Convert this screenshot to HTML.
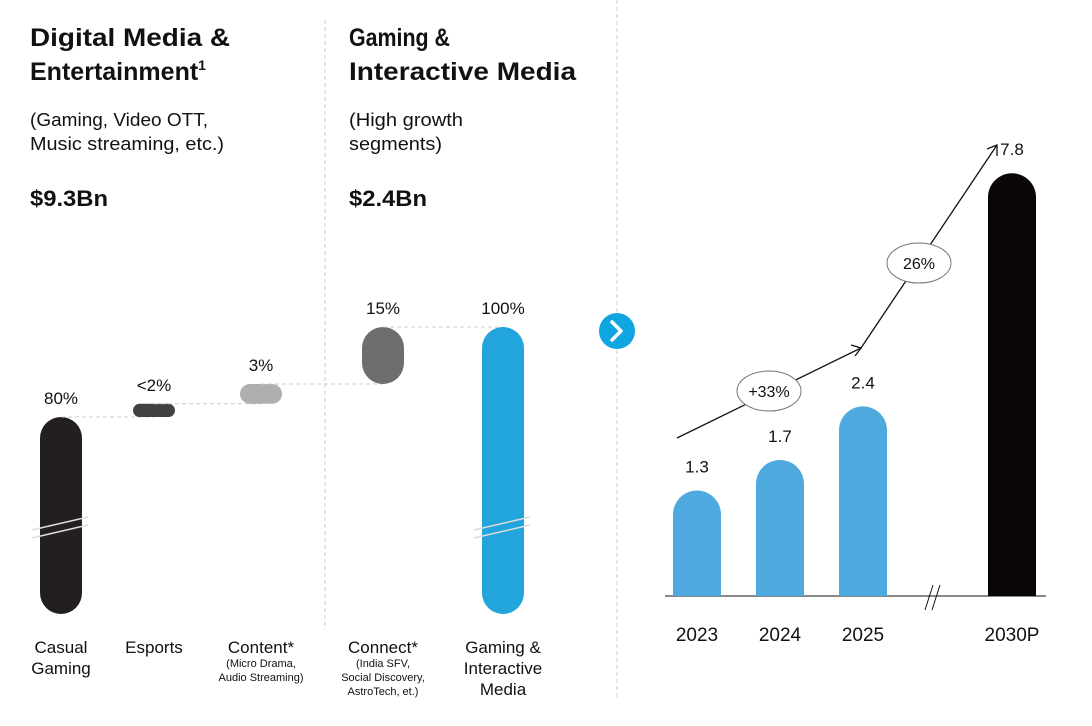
<!DOCTYPE html>
<html><head><meta charset="utf-8"><style>
html,body{margin:0;padding:0;background:#fff;}
svg{display:block;font-family:"Liberation Sans Narrow","Liberation Sans",sans-serif;}
</style></head><body>
<svg id="chart" width="1092" height="726" viewBox="0 0 1092 726" xmlns="http://www.w3.org/2000/svg">
<g fill="#111">
<text x="30" y="46" font-size="25" font-weight="bold" textLength="200" lengthAdjust="spacingAndGlyphs">Digital Media &amp;</text>
<text x="30" y="80" font-size="25" font-weight="bold" textLength="176" lengthAdjust="spacingAndGlyphs">Entertainment<tspan font-size="14" dy="-10">1</tspan></text>
<text x="30" y="126" font-size="18" textLength="178" lengthAdjust="spacingAndGlyphs">(Gaming, Video OTT,</text>
<text x="30" y="150" font-size="18" textLength="194" lengthAdjust="spacingAndGlyphs">Music streaming, etc.)</text>
<text x="30" y="206" font-size="22" font-weight="bold" textLength="78" lengthAdjust="spacingAndGlyphs">$9.3Bn</text>
<text x="349" y="46" font-size="25" font-weight="bold" textLength="101" lengthAdjust="spacingAndGlyphs">Gaming &amp;</text>
<text x="349" y="80" font-size="25" font-weight="bold" textLength="227" lengthAdjust="spacingAndGlyphs">Interactive Media</text>
<text x="349" y="126" font-size="18" textLength="114" lengthAdjust="spacingAndGlyphs">(High growth</text>
<text x="349" y="150" font-size="18" textLength="93" lengthAdjust="spacingAndGlyphs">segments)</text>
<text x="349" y="206" font-size="22" font-weight="bold" textLength="78" lengthAdjust="spacingAndGlyphs">$2.4Bn</text>
</g>
<line x1="325" y1="20" x2="325" y2="630" stroke="#ccc" stroke-dasharray="4,3"/>
<line x1="617" y1="0" x2="617" y2="700" stroke="#ccc" stroke-dasharray="4,3"/>
<g id="left"></g>
<g>
<circle cx="617" cy="331" r="18" fill="#0ea5e0"/>
<path d="M612 322 L621 331 L612 340" fill="none" stroke="#fff" stroke-width="3.5" stroke-linecap="round" stroke-linejoin="round"/>
</g>
<g id="right"></g>
</svg>
<script>
// Left waterfall data
const segNames = ["Casual Gaming","Esports","Content*","Connect*","Gaming & Interactive Media"];
const segLabels = ["80%","<2%","3%","15%","100%"];
const segStart = [0, 80, 82, 85, 0];
const segEnd = [80, 82, 85, 100, 100];
const segColors = ["#231f20","#414042","#aeafb1","#6d6e70","#22a5dd"];
const segSub = [[], [], ["(Micro Drama,","Audio Streaming)"], ["(India SFV,","Social Discovery,","AstroTech, et.)"], []];
const segMain = [["Casual","Gaming"],["Esports"],["Content*"],["Connect*"],["Gaming &","Interactive","Media"]];

// Right growth data
const years = ["2023","2024","2025","2030P"];
const values = [1.3, 1.7, 2.4, 7.8];
const valueLabels = ["1.3","1.7","2.4","7.8"];
const barColors = ["#4eaade","#4eaade","#4eaade","#0a0608"];
const cagrLabels = ["+33%","26%"];

const NS="http://www.w3.org/2000/svg";
function mk(parent, tag, attrs, text){
  const e=document.createElementNS(NS,tag);
  for(const k in attrs) e.setAttribute(k, attrs[k]);
  if(text!==undefined) e.textContent=text;
  parent.appendChild(e); return e;
}
const L=document.getElementById('left');
// piecewise scale with break: 0..80 compressed, 80..100 expanded
function ly(v){
  if(v<=80) return 614 - v*(197/80);
  if(v<=85) return 417 - (v-80)*(33/5);
  return 384 - (v-85)*(57/15);
}
const segX = [40,133,240,362,482];
const bw=42;
for(let i=0;i<segNames.length;i++){
  const x=segX[i], y1=ly(segEnd[i]), y0=ly(segStart[i]);
  const h=Math.max(y0-y1,12);
  const r=Math.min(bw/2,h/2);
  const b=mk(L,'rect',{x:x,y:y1,width:bw,height:h,rx:r,ry:r,fill:segColors[i]});
  
  
  const t=mk(L,'text',{x:x+bw/2,y:y1-13,'font-size':17,'text-anchor':'middle',fill:'#111'},segLabels[i]);
  
  
  segMain[i].forEach((s,j)=>{
    const m=mk(L,'text',{x:x+bw/2,y:653+j*21,'font-size':17,'text-anchor':'middle',fill:'#111'},s);
    
    
  });
  segSub[i].forEach((s,j)=>{
    const m=mk(L,'text',{x:x+bw/2,y:667+j*14,'font-size':11,'text-anchor':'middle',fill:'#111'},s);
    
    
  });
  if(i<segNames.length-1){
    const ny=ly(segEnd[i]);
    const c=mk(L,'line',{x1:x+bw/2,y1:ny,x2:segX[i+1]+bw/2,y2:ny,stroke:'#ccc','stroke-dasharray':'4,3'});
    
    
  }
}
[40,482].forEach(x=>{
  [0,8].forEach(d=>{
    const l=mk(L,'line',{x1:x-8,y1:530+d,x2:x+bw+6,y2:517+d,stroke:'#ddd','stroke-width':1.5});
    
    
  });
});

// Right chart
const R=document.getElementById('right');
const base=596;
function rh(v){ return v>5 ? v*54.2 : v*76.5 + 6; }
const bx=[673,756,839,988];
const rbw=48;
const ax=mk(R,'line',{x1:665,y1:base,x2:1046,y2:base,stroke:'#111','stroke-width':1});


for(let i=0;i<values.length;i++){
  const h=rh(values[i]), y=base-h;
  const p=mk(R,'path',{d:`M${bx[i]} ${base} L${bx[i]} ${y+rbw/2} A${rbw/2} ${rbw/2} 0 0 1 ${bx[i]+rbw} ${y+rbw/2} L${bx[i]+rbw} ${base} Z`,fill:barColors[i]});
  
  
  const t=mk(R,'text',{x:bx[i]+rbw/2,y:y-18,'font-size':17,'text-anchor':'middle',fill:'#111'},valueLabels[i]);
  
  
  const yl=mk(R,'text',{x:bx[i]+rbw/2,y:641,'font-size':19,'text-anchor':'middle',fill:'#111'},years[i]);
  
  
}
[0,7].forEach(d=>{
  const l=mk(R,'line',{x1:925+d,y1:610,x2:933+d,y2:585,stroke:'#111'});
  
  
});
const a=mk(R,'path',{d:'M677 438 L861 348 L997 145',fill:'none',stroke:'#111','stroke-width':1.3});


const ah1=mk(R,'path',{d:'M851 345 L861 348 L855 356',fill:'none',stroke:'#111','stroke-width':1.3});


const ah2=mk(R,'path',{d:'M987 149 L997 145 L997 156',fill:'none',stroke:'#111','stroke-width':1.3});


[[769,391],[919,263]].forEach((c,i)=>{
  const e=mk(R,'ellipse',{cx:c[0],cy:c[1],rx:32,ry:20,fill:'#fff',stroke:'#777','stroke-width':1});
  
  
  const t=mk(R,'text',{x:c[0],y:c[1]+6,'font-size':16,'text-anchor':'middle',fill:'#111'},cagrLabels[i]);
  
  
});
</script>
</body></html>
